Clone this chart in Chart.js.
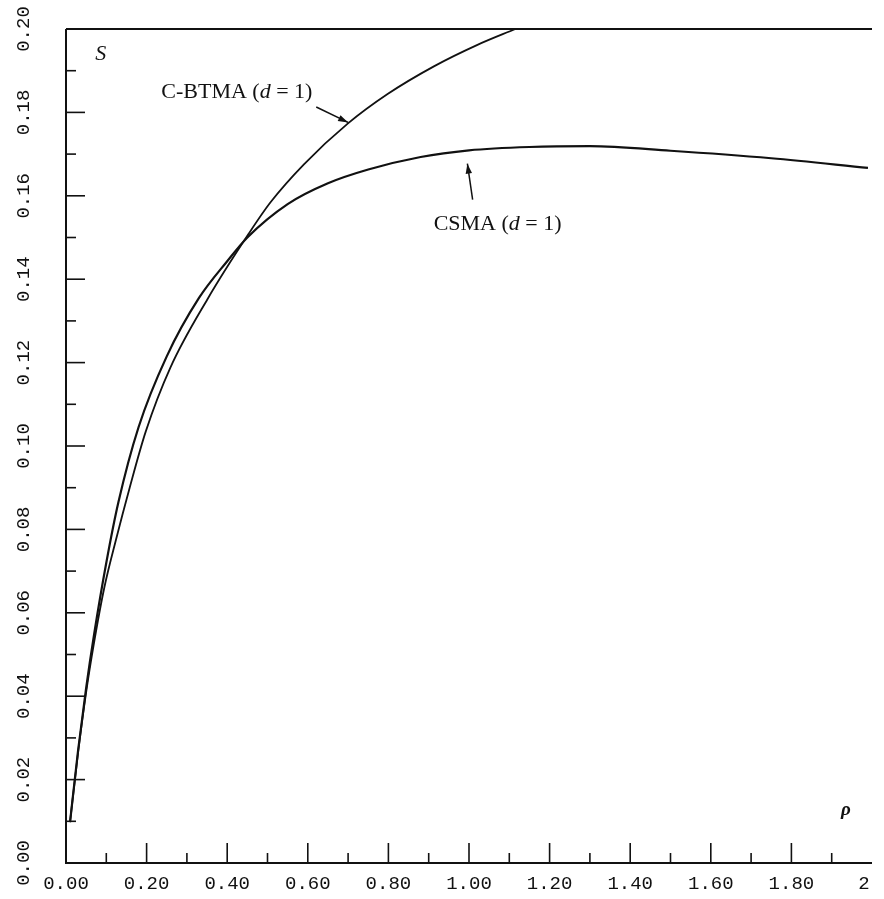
<!DOCTYPE html>
<html><head><meta charset="utf-8">
<script src="https://cdn.jsdelivr.net/npm/chart.js@4/dist/chart.umd.min.js"></script>
<style>html,body{margin:0;padding:0;background:#fff;}canvas{display:block;}</style>
</head><body>
<canvas id="c" width="884" height="899"></canvas>
<script>
// ---- data ----
const rhoCSMA = [0.010, 0.030, 0.050, 0.070, 0.100, 0.130, 0.180, 0.250, 0.330, 0.400, 0.450, 0.550, 0.650, 0.750, 0.880, 1.000, 1.150, 1.300, 1.500, 1.750, 1.990];
const sCSMA   = [0.0098, 0.0270, 0.0420, 0.0550, 0.0720, 0.0865, 0.1045, 0.1215, 0.1355, 0.1443, 0.1500, 0.1580, 0.1630, 0.1663, 0.1693, 0.1709, 0.1717, 0.1719, 0.1708, 0.1690, 0.1667];
const rhoCBTMA = [0.010, 0.030, 0.050, 0.069, 0.095, 0.124, 0.158, 0.198, 0.259, 0.351, 0.454, 0.508, 0.591, 0.699, 0.798, 0.914, 1.021, 1.115];
const sCBTMA   = [0.0098, 0.0265, 0.0410, 0.0525, 0.0660, 0.0775, 0.0900, 0.1035, 0.1188, 0.1352, 0.1510, 0.1585, 0.1676, 0.1773, 0.1844, 0.1911, 0.1962, 0.2000];

const xTickValues = [0, 0.2, 0.4, 0.6, 0.8, 1.0, 1.2, 1.4, 1.6, 1.8, 2.0];
const xTickLabels = ['0.00', '0.20', '0.40', '0.60', '0.80', '1.00', '1.20', '1.40', '1.60', '1.80', '2'];
const xMinorStep = 0.1;
const yTickValues = [0, 0.02, 0.04, 0.06, 0.08, 0.10, 0.12, 0.14, 0.16, 0.18, 0.20];
const yTickLabels = ['0.00', '0.02', '0.04', '0.06', '0.08', '0.10', '0.12', '0.14', '0.16', '0.18', '0.20'];
const yMinorStep = 0.01;

const seriesNames = ['CSMA (d = 1)', 'C-BTMA (d = 1)'];

// annotation placement (data coordinates)
const notes = {
  cbtmaLabel: {x: 0.424, y: 0.1848},
  cbtmaArrow: {x1: 0.621, y1: 0.1813, x2: 0.700, y2: 0.1776},
  csmaLabel: {x: 1.071, y: 0.1531},
  csmaArrow: {x1: 1.009, y1: 0.1591, x2: 0.996, y2: 0.1677},
  sLabel: {x: 0.086, y: 0.1939},
  rhoLabel: {x: 1.935, y: 0.0128}
};

const toXY = (xs, ys) => xs.map((v, i) => ({x: v, y: ys[i]}));

const SERIF = '"Liberation Serif", "DejaVu Serif", serif';
const MONO = '"Liberation Mono", "DejaVu Sans Mono", monospace';

function drawMixed(ctx, parts, cx, cy, size) {
  let total = 0;
  parts.forEach(p => { ctx.font = (p.it ? 'italic ' : '') + size + 'px ' + SERIF; p.w = ctx.measureText(p.t).width; total += p.w; });
  let x = cx - total / 2;
  ctx.textAlign = 'left'; ctx.textBaseline = 'middle';
  parts.forEach(p => { ctx.font = (p.it ? 'italic ' : '') + size + 'px ' + SERIF; ctx.fillText(p.t, x, cy); x += p.w; });
}
function arrow(ctx, x1, y1, x2, y2) {
  ctx.beginPath(); ctx.moveTo(x1, y1); ctx.lineTo(x2, y2); ctx.lineWidth = 1.5; ctx.stroke();
  const a = Math.atan2(y2 - y1, x2 - x1), L = 10, W = 3.2;
  ctx.beginPath();
  ctx.moveTo(x2, y2);
  ctx.lineTo(x2 - L * Math.cos(a) + W * Math.sin(a), y2 - L * Math.sin(a) - W * Math.cos(a));
  ctx.lineTo(x2 - L * Math.cos(a) - W * Math.sin(a), y2 - L * Math.sin(a) + W * Math.cos(a));
  ctx.closePath(); ctx.fill();
}

const axesPlugin = {
  id: 'paperAxes',
  afterDatasetsDraw(chart) {
    const {ctx, chartArea: a, scales: {x, y}} = chart;
    ctx.save();
    ctx.strokeStyle = '#111'; ctx.fillStyle = '#111';
    ctx.lineWidth = 2;
    ctx.beginPath();
    ctx.moveTo(a.left, a.top); ctx.lineTo(a.left, a.bottom); ctx.lineTo(a.right, a.bottom);
    ctx.moveTo(a.left, a.top); ctx.lineTo(a.right, a.top);
    ctx.stroke();
    ctx.lineWidth = 1.6;
    const nx = Math.round((x.max - x.min) / xMinorStep);
    for (let i = 1; i < nx; i++) {
      const v = x.min + i * xMinorStep, px = x.getPixelForValue(v);
      const len = (i % 2 === 0) ? 20 : 10;
      ctx.beginPath(); ctx.moveTo(px, a.bottom); ctx.lineTo(px, a.bottom - len); ctx.stroke();
    }
    const ny = Math.round((y.max - y.min) / yMinorStep);
    for (let i = 1; i < ny; i++) {
      const v = y.min + i * yMinorStep, py = y.getPixelForValue(v);
      const len = (i % 2 === 0) ? 19 : 10;
      ctx.beginPath(); ctx.moveTo(a.left, py); ctx.lineTo(a.left + len, py); ctx.stroke();
    }
    ctx.font = '19px ' + MONO; ctx.textAlign = 'center'; ctx.textBaseline = 'middle';
    xTickValues.forEach((v, i) => {
      let px = x.getPixelForValue(v);
      if (i === xTickValues.length - 1) px -= 8;
      ctx.fillText(xTickLabels[i], px, a.bottom + 21);
    });
    yTickValues.forEach((v, i) => {
      const py = y.getPixelForValue(v);
      ctx.save(); ctx.translate(24, py); ctx.rotate(-Math.PI / 2);
      ctx.fillText(yTickLabels[i], 0, 0); ctx.restore();
    });
    ctx.font = 'italic 22px ' + SERIF; ctx.textAlign = 'center';
    ctx.fillText('S', x.getPixelForValue(notes.sLabel.x), y.getPixelForValue(notes.sLabel.y));
    ctx.font = 'italic bold 19px ' + SERIF;
    ctx.fillText('\u03C1', x.getPixelForValue(notes.rhoLabel.x), y.getPixelForValue(notes.rhoLabel.y));
    drawMixed(ctx, [{t: 'C-BTMA ('}, {t: 'd', it: true}, {t: ' = 1)'}],
      x.getPixelForValue(notes.cbtmaLabel.x), y.getPixelForValue(notes.cbtmaLabel.y), 22);
    drawMixed(ctx, [{t: 'CSMA ('}, {t: 'd', it: true}, {t: ' = 1)'}],
      x.getPixelForValue(notes.csmaLabel.x), y.getPixelForValue(notes.csmaLabel.y), 22);
    const ca = notes.cbtmaArrow, sa = notes.csmaArrow;
    arrow(ctx, x.getPixelForValue(ca.x1), y.getPixelForValue(ca.y1), x.getPixelForValue(ca.x2), y.getPixelForValue(ca.y2));
    arrow(ctx, x.getPixelForValue(sa.x1), y.getPixelForValue(sa.y1), x.getPixelForValue(sa.x2), y.getPixelForValue(sa.y2));
    ctx.restore();
  }
};

new Chart(document.getElementById('c'), {
  type: 'line',
  data: {
    datasets: [
      {label: seriesNames[0], data: toXY(rhoCSMA, sCSMA), borderColor: '#111', borderWidth: 2.2, pointRadius: 0, cubicInterpolationMode: 'monotone', fill: false, clip: 3},
      {label: seriesNames[1], data: toXY(rhoCBTMA, sCBTMA), borderColor: '#111', borderWidth: 1.8, pointRadius: 0, cubicInterpolationMode: 'monotone', fill: false, clip: 3}
    ]
  },
  options: {
    responsive: false, animation: false, devicePixelRatio: 1,
    layout: {padding: {left: 66, right: 12, top: 29, bottom: 36}},
    plugins: {legend: {display: false}, tooltip: {enabled: false}},
    scales: {
      x: {type: 'linear', min: 0, max: 2, display: false},
      y: {type: 'linear', min: 0, max: 0.2, display: false}
    }
  },
  plugins: [axesPlugin]
});
</script>
</body></html>
